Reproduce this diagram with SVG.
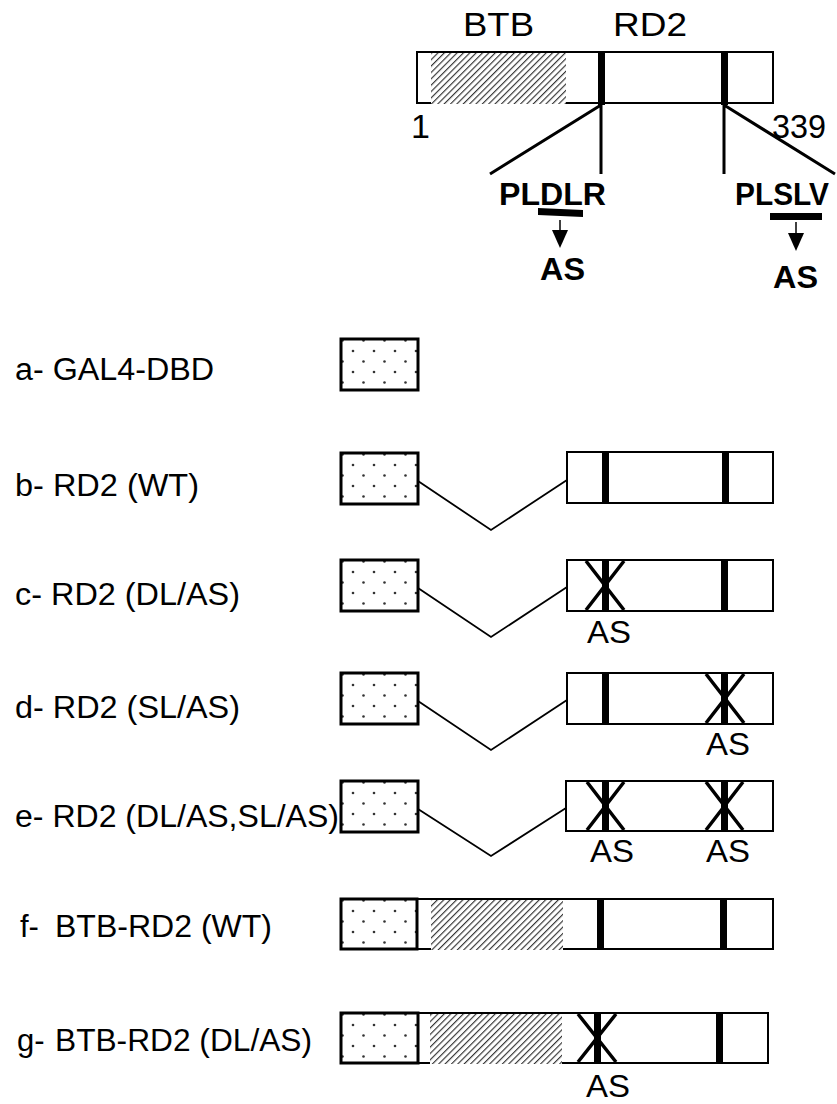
<svg xmlns="http://www.w3.org/2000/svg" width="837" height="1104" viewBox="0 0 837 1104">
<style>
text{font-family:"Liberation Sans",Arial,sans-serif;fill:#000}
.lbl{font-size:31px}
.top{font-size:34px}
.b{font-size:31px;font-weight:bold}
.as{font-size:31px}
.gal{fill:url(#dots);stroke:#000;stroke-width:3}
.box{fill:#fff;stroke:#000;stroke-width:2}
.hatch{fill:url(#hatch);stroke:none}
.bar{fill:#000}
.x{stroke:#000;stroke-width:3.5;fill:none}
.conn{stroke:#000;stroke-width:1.8;fill:none}
.lead{stroke:#000;stroke-width:3;fill:none}
</style>
<defs>
<pattern id="dots" patternUnits="userSpaceOnUse" x="0" y="0" width="21" height="21">
<rect width="21" height="21" fill="#fff"/>
<circle cx="1.5" cy="1.5" r="1.3" fill="#333"/>
<circle cx="12" cy="12" r="1.3" fill="#333"/>
</pattern>
<pattern id="hatch" patternUnits="userSpaceOnUse" width="4.5" height="4.5" patternTransform="rotate(45)">
<rect width="4.5" height="4.5" fill="#fff"/>
<line x1="0" y1="0" x2="0" y2="4.5" stroke="#333" stroke-width="2.3"/>
</pattern>
</defs>

<g id="top-protein">
<rect class="box" x="417" y="52" width="356" height="51" stroke-width="1.8"/>
<rect class="hatch" x="431" y="53" width="135" height="51"/>
<rect class="bar" x="598" y="52" width="7" height="53"/>
<rect class="bar" x="721" y="52" width="7" height="53"/>
<text class="top" x="463" y="36" textLength="71" lengthAdjust="spacingAndGlyphs">BTB</text>
<text class="top" x="613" y="36" textLength="74" lengthAdjust="spacingAndGlyphs">RD2</text>
<text class="top" x="411" y="138">1</text>
<text class="top" x="772" y="138" textLength="54" lengthAdjust="spacingAndGlyphs">339</text>
<path class="lead" d="M601,105 L490,174 M601,105 L601,174 M724,105 L724,174 M724,105 L835,174"/>
<text class="b" x="499" y="205" textLength="107" lengthAdjust="spacingAndGlyphs">PLDLR</text>
<text class="b" x="735" y="205" textLength="94" lengthAdjust="spacingAndGlyphs">PLSLV</text>
<polygon points="538,208 583,210 583,217 538,215" fill="#000"/>
<rect x="770" y="213" width="52" height="7" fill="#000"/>
<line x1="560" y1="220" x2="560" y2="232" stroke="#000" stroke-width="1.5"/>
<polygon points="552,230 568,230 560,248" fill="#000"/>
<line x1="796" y1="222" x2="796" y2="234" stroke="#000" stroke-width="1.5"/>
<polygon points="788,233 804,233 796,251" fill="#000"/>
<text class="b" x="540" y="280" textLength="45" lengthAdjust="spacingAndGlyphs">AS</text>
<text class="b" x="773" y="288" textLength="45" lengthAdjust="spacingAndGlyphs">AS</text>
</g>

<g id="row-a">
<text class="lbl" x="15" y="380" textLength="199" lengthAdjust="spacingAndGlyphs">a- GAL4-DBD</text>
<rect class="gal" x="0" y="0" width="77" height="51" transform="translate(341,339)"/>
</g>

<g id="row-b">
<text class="lbl" x="15" y="496" textLength="184" lengthAdjust="spacingAndGlyphs">b- RD2 (WT)</text>
<rect class="gal" x="0" y="0" width="77" height="51" transform="translate(341,453)"/>
<rect class="box" x="567" y="452" width="206" height="51"/>
<rect class="bar" x="602" y="452" width="7" height="51"/>
<rect class="bar" x="722" y="452" width="7" height="51"/>
</g>

<g id="row-c">
<text class="lbl" x="15" y="605" textLength="225" lengthAdjust="spacingAndGlyphs">c- RD2 (DL/AS)</text>
<rect class="gal" x="0" y="0" width="77" height="51" transform="translate(341,560)"/>
<rect class="box" x="567" y="560" width="206" height="51"/>
<rect class="bar" x="602" y="560" width="7" height="51"/>
<path class="x" d="M586,561 L624,610 M624,561 L586,610"/>
<rect class="bar" x="721" y="560" width="7" height="51"/>
<text class="as" x="587" y="643" textLength="44" lengthAdjust="spacingAndGlyphs">AS</text>
</g>

<g id="row-d">
<text class="lbl" x="15" y="718" textLength="225" lengthAdjust="spacingAndGlyphs">d- RD2 (SL/AS)</text>
<rect class="gal" x="0" y="0" width="77" height="51" transform="translate(341,673)"/>
<rect class="box" x="567" y="673" width="206" height="51"/>
<rect class="bar" x="602" y="673" width="7" height="51"/>
<rect class="bar" x="721" y="673" width="7" height="51"/>
<path class="x" d="M706,674 L744,723 M744,674 L706,723"/>
<text class="as" x="706" y="755" textLength="44" lengthAdjust="spacingAndGlyphs">AS</text>
</g>

<g id="row-e">
<text class="lbl" x="15" y="827" textLength="324" lengthAdjust="spacingAndGlyphs">e- RD2 (DL/AS,SL/AS)</text>
<rect class="gal" x="0" y="0" width="77" height="51" transform="translate(341,781)"/>
<rect class="box" x="566" y="781" width="207" height="50"/>
<rect class="bar" x="602" y="781" width="7" height="50"/>
<path class="x" d="M587,782 L624,830 M624,782 L587,830"/>
<rect class="bar" x="721" y="781" width="7" height="50"/>
<path class="x" d="M706,782 L743,830 M743,782 L706,830"/>
<text class="as" x="590" y="862" textLength="44" lengthAdjust="spacingAndGlyphs">AS</text>
<text class="as" x="706" y="862" textLength="44" lengthAdjust="spacingAndGlyphs">AS</text>
</g>

<g id="row-f">
<text class="lbl" x="20" y="937">f-</text>
<text class="lbl" x="55" y="937" textLength="217" lengthAdjust="spacingAndGlyphs">BTB-RD2 (WT)</text>
<rect class="box" x="417" y="899" width="356" height="50"/>
<rect class="hatch" x="431" y="900" width="132" height="50"/>
<rect class="gal" x="0" y="0" width="76" height="50" transform="translate(341,899)"/>
<rect class="bar" x="597" y="899" width="7" height="51"/>
<rect class="bar" x="720" y="899" width="7" height="51"/>
</g>

<g id="row-g">
<text class="lbl" x="17" y="1051">g-</text>
<text class="lbl" x="55" y="1051" textLength="257" lengthAdjust="spacingAndGlyphs">BTB-RD2 (DL/AS)</text>
<rect class="box" x="418" y="1013" width="350" height="50"/>
<rect class="hatch" x="430" y="1014" width="132" height="50"/>
<rect class="gal" x="0" y="0" width="77" height="50" transform="translate(341,1013)"/>
<rect class="bar" x="594" y="1013" width="7" height="51"/>
<path class="x" d="M578,1014 L616,1062 M616,1014 L578,1062"/>
<rect class="bar" x="716" y="1013" width="7" height="51"/>
<text class="as" x="586" y="1097" textLength="44" lengthAdjust="spacingAndGlyphs">AS</text>
</g>

<g id="connectors">
<path class="conn" d="M418,481 L491,530 L567,480"/>
<path class="conn" d="M418,588 L491,637 L567,587"/>
<path class="conn" d="M418,701 L491,750 L567,700"/>
<path class="conn" d="M418,809 L491,856 L566,808"/>
</g>
</svg>
